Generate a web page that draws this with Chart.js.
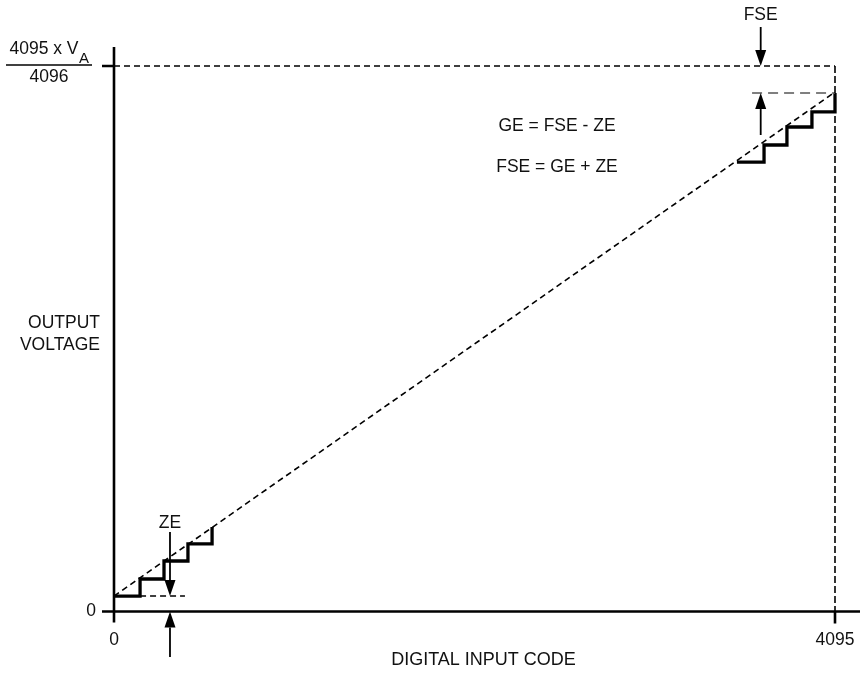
<!DOCTYPE html>
<html>
<head>
<meta charset="utf-8">
<script src="https://cdn.jsdelivr.net/npm/chart.js@4/dist/chart.umd.min.js"></script>
<style>
  html,body{margin:0;padding:0;background:#fff;}
  #wrap{width:860px;height:675px;position:relative;}
</style>
</head>
<body>
<div id="wrap"><canvas id="c"></canvas></div>
<script>
// ---- data (x: digital input code, y: output in code units) ----
const CODE_MAX = 4095;
const xTickValues = [0, 4095];
const xTickLabels = ['0', '4095'];
const yTickLabelZero = '0';
const yFullScaleNum = '4095 x V';
const yFullScaleSub = 'A';
const yFullScaleDen = '4096';
const xAxisTitle = 'DIGITAL INPUT CODE';
const yAxisTitle = ['OUTPUT', 'VOLTAGE'];
const equations = ['GE = FSE - ZE', 'FSE = GE + ZE'];

// ideal-with-offset transfer line
const diagX = [0, 4095];
const diagY = [116, 3900];
// low-end staircase (horizontal tread then vertical riser)
const lowStairX = [0, 148, 284, 420, 557];
const lowStairY = [116, 244, 379, 507, 634];
// high-end staircase
const highStairX = [3538, 3692, 3822, 3964, 4095];
const highStairY = [3374, 3502, 3637, 3750, 3892];
// zero-scale reference dashed
const zeRefX = [148, 403];
const zeRefY = [116, 116];
// full-scale reference dashed (gray)
const fsRefX = [3624, 4095];
const fsRefY = [3892, 3892];
// ideal full scale frame
const fsTopX = [0, 4095];
const fsTopY = [4095, 4095];
const fsRightX = [4095, 4095];
const fsRightY = [4095, 0];

// arrows: [x, yFrom, yTo(tip)]
const zeArrowDown = [318, 597, 116];
const zeArrowUp = [318, -342, 0];
const fseArrowDown = [3673, 4388, 4095];
const fseArrowUp = [3673, 3577, 3892];
// labels positions (data units)
const zeLabel = {text: 'ZE', x: 318, y: 664};
const fseLabel = {text: 'FSE', x: 3673, y: 4478};
const eqPos = {x: 2516, y: [3645, 3337]};

const pts = (xs, ys) => xs.map((v, i) => ({x: v, y: ys[i]}));
const FONT = '"Liberation Sans", Arial, Helvetica, sans-serif';

const base = {showLine: true, pointRadius: 0, fill: false, clip: false, borderColor: '#000', tension: 0};

const overlay = {
  id: 'overlay',
  afterDatasetsDraw(chart) {
    const {ctx, scales: {x, y}} = chart;
    const X = v => x.getPixelForValue(v), Y = v => y.getPixelForValue(v);
    ctx.save();
    // axes
    ctx.strokeStyle = '#000';
    ctx.lineWidth = 2.6;
    ctx.lineCap = 'butt';
    ctx.beginPath();
    ctx.moveTo(X(0), Y(CODE_MAX) - 19); ctx.lineTo(X(0), Y(0) + 11);
    ctx.moveTo(X(0) - 12, Y(0)); ctx.lineTo(chart.width, Y(0));
    // ticks
    ctx.moveTo(X(0) - 12, Y(CODE_MAX)); ctx.lineTo(X(0), Y(CODE_MAX));
    ctx.moveTo(X(CODE_MAX), Y(0)); ctx.lineTo(X(CODE_MAX), Y(0) + 12);
    ctx.stroke();

    // arrows
    const arrow = (a) => {
      const px = X(a[0]), y0 = Y(a[1]), y1 = Y(a[2]);
      const dir = Math.sign(y1 - y0);
      const head = 16, hw = 5.5;
      ctx.lineWidth = 1.8;
      ctx.beginPath();
      ctx.moveTo(px, y0); ctx.lineTo(px, y1 - dir * head);
      ctx.stroke();
      ctx.beginPath();
      ctx.moveTo(px, y1);
      ctx.lineTo(px - hw, y1 - dir * head);
      ctx.lineTo(px + hw, y1 - dir * head);
      ctx.closePath();
      ctx.fillStyle = '#000';
      ctx.fill();
    };
    [zeArrowDown, zeArrowUp, fseArrowDown, fseArrowUp].forEach(arrow);

    // texts
    ctx.fillStyle = '#111';
    ctx.font = '17.5px ' + FONT;
    ctx.textBaseline = 'middle';
    ctx.textAlign = 'center';
    ctx.fillText(zeLabel.text, X(zeLabel.x), Y(zeLabel.y));
    ctx.fillText(fseLabel.text, X(fseLabel.x), Y(fseLabel.y));
    equations.forEach((t, i) => ctx.fillText(t, X(eqPos.x), Y(eqPos.y[i])));
    // x tick labels
    xTickValues.forEach((v, i) => ctx.fillText(xTickLabels[i], X(v), Y(0) + 29));
    // x axis title
    ctx.font = '18px ' + FONT;
    ctx.fillText(xAxisTitle, (X(0) + X(CODE_MAX)) / 2 + 9, Y(0) + 49);
    ctx.font = '17.5px ' + FONT;
    // y tick zero
    ctx.textAlign = 'center';
    ctx.fillText(yTickLabelZero, X(0) - 23, Y(0));
    // y axis title
    ctx.textAlign = 'right';
    const midY = (Y(0) + Y(CODE_MAX)) / 2;
    ctx.fillText(yAxisTitle[0], X(0) - 14, midY - 16);
    ctx.fillText(yAxisTitle[1], X(0) - 14, midY + 6);
    // full-scale fraction label
    const fy = Y(CODE_MAX);
    ctx.textBaseline = 'alphabetic';
    ctx.textAlign = 'left';
    ctx.font = '17.5px ' + FONT;
    const wNum = ctx.measureText(yFullScaleNum).width;
    ctx.font = '15px ' + FONT;
    const wSub = ctx.measureText(yFullScaleSub).width;
    const totW = wNum + wSub;
    const cx = X(0) - 65;
    const sx = cx - totW / 2;
    ctx.font = '17.5px ' + FONT;
    ctx.fillText(yFullScaleNum, sx, fy - 12);
    ctx.font = '15px ' + FONT;
    ctx.fillText(yFullScaleSub, sx + wNum + 0.5, fy - 3);
    ctx.strokeStyle = '#000';
    ctx.lineWidth = 1.3;
    ctx.beginPath();
    ctx.moveTo(X(0) - 108, fy - 1); ctx.lineTo(X(0) - 22, fy - 1);
    ctx.stroke();
    ctx.font = '17.5px ' + FONT;
    ctx.textAlign = 'center';
    ctx.fillText(yFullScaleDen, X(0) - 65, fy + 16);
    ctx.restore();
  }
};

new Chart(document.getElementById('c'), {
  type: 'scatter',
  data: {
    datasets: [
      {...base, data: pts(fsTopX, fsTopY), borderWidth: 1.6, borderDash: [6, 4]},
      {...base, data: pts(fsRightX, fsRightY), borderWidth: 1.6, borderDash: [7, 3]},
      {...base, data: pts(diagX, diagY), borderWidth: 1.6, borderDash: [6, 4]},
      {...base, data: pts(zeRefX, zeRefY), borderWidth: 1.6, borderDash: [6, 4]},
      {...base, data: pts(fsRefX, fsRefY), borderWidth: 1.6, borderDash: [10, 6], borderColor: '#555'},
      {...base, data: pts(lowStairX, lowStairY), borderWidth: 3.3, stepped: 'before'},
      {...base, data: pts(highStairX, highStairY), borderWidth: 3.3, stepped: 'before'}
    ]
  },
  options: {
    responsive: true,
    maintainAspectRatio: false,
    animation: false,
    events: [],
    layout: {padding: {left: 114, right: 25, top: 66, bottom: 63.5}},
    plugins: {legend: {display: false}, tooltip: {enabled: false}},
    scales: {
      x: {type: 'linear', min: 0, max: CODE_MAX, display: false},
      y: {type: 'linear', min: 0, max: CODE_MAX, display: false}
    }
  },
  plugins: [overlay]
});
</script>
</body>
</html>
